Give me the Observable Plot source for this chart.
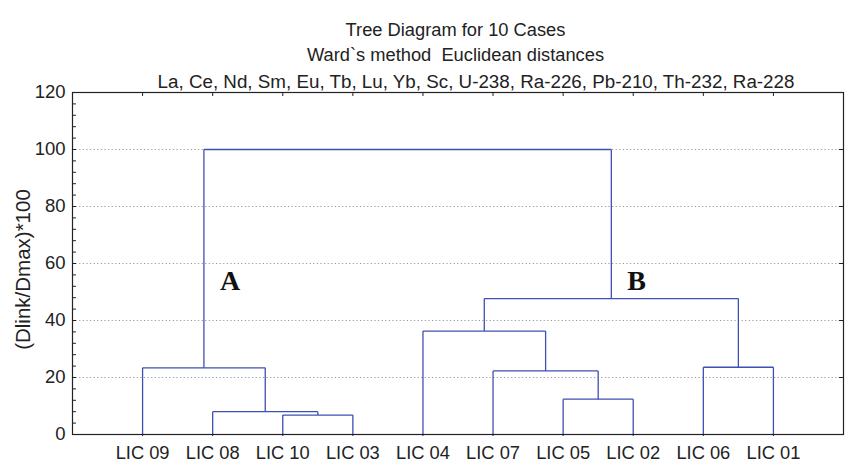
<!DOCTYPE html>
<html>
<head>
<meta charset="utf-8">
<script src="https://cdn.jsdelivr.net/npm/d3@7"></script>
<script src="https://cdn.jsdelivr.net/npm/@observablehq/plot@0.6"></script>
<style>
  body { margin: 0; background: #fff; }
  #chart svg { display: block; }
</style>
</head>
<body>
<div id="chart"></div>
<script>
// ---- data ----
const titleLines = [
  "Tree Diagram for 10 Cases",
  "Ward`s method  Euclidean distances",
  "La, Ce, Nd, Sm, Eu, Tb, Lu, Yb, Sc, U-238, Ra-226, Pb-210, Th-232, Ra-228"
];
const yLabel = "(Dlink/Dmax)*100";
const leaves = ["LIC 09", "LIC 08", "LIC 10", "LIC 03", "LIC 04", "LIC 07", "LIC 05", "LIC 02", "LIC 06", "LIC 01"];
const mergeName   = ["c1",     "c2",     "A",      "c3",     "c4",     "c5",     "c6",     "B",  "root"];
const mergeLeft   = ["LIC 10", "LIC 08", "LIC 09", "LIC 05", "LIC 07", "LIC 04", "LIC 06", "c5", "A"];
const mergeRight  = ["LIC 03", "c1",     "c2",     "LIC 02", "c3",     "c4",     "LIC 01", "c6", "B"];
const mergeHeight = [6.8,      8.0,      23.4,     12.4,     22.3,     36.3,     23.6,     47.7, 100];
const clusterLabels = ["A", "B"];
const clusterLabelHeight = [54, 54];
const yTicks = [0, 20, 40, 60, 80, 100, 120];
const yGrid = [20, 40, 60, 80, 100];
const yMinor = d3.range(0, 121, 4);

// ---- layout ----
const W = 845, H = 461;
const mTop = 92, mBottom = 27, mLeft = 72, mRight = 2;
const frameW = W - mLeft - mRight, frameH = H - mTop - mBottom;

// ---- build dendrogram segments from merge table ----
const pos = new Map();
leaves.forEach((l, i) => pos.set(l, {x: i + 1, y: 0}));
const segs = [];
mergeName.forEach((n, i) => {
  const a = pos.get(mergeLeft[i]), b = pos.get(mergeRight[i]), h = mergeHeight[i];
  segs.push({x1: a.x, y1: a.y, x2: a.x, y2: h});
  segs.push({x1: b.x, y1: b.y, x2: b.x, y2: h});
  segs.push({x1: a.x, y1: h, x2: b.x, y2: h});
  pos.set(n, {x: (a.x + b.x) / 2, y: h});
});
const labelData = clusterLabels.map((c, i) => ({label: c, x: pos.get(c).x, y: clusterLabelHeight[i]}));
const leafPos = leaves.map((l, i) => i + 1);

const ink = "#222";
const chart = Plot.plot({
  width: W, height: H,
  marginTop: mTop, marginBottom: mBottom, marginLeft: mLeft, marginRight: mRight,
  x: {domain: [0, leaves.length + 1], axis: null},
  y: {domain: [0, 120], axis: null},
  style: {fontFamily: "'Liberation Sans', Arial, Helvetica, sans-serif", fontSize: "18px", background: "#fff", color: ink},
  marks: [
    Plot.gridY(yGrid, {stroke: "#999", strokeOpacity: 1, strokeDasharray: "1.2,2.4", strokeWidth: 1}),
    Plot.link(segs, {x1: "x1", y1: "y1", x2: "x2", y2: "y2", stroke: "#3f4fb2", strokeWidth: 1.3}),
    // inward minor ticks on the left, inward ticks on the right and top
    Plot.tickY(yMinor, {y: d => d, insetRight: frameW - 4, stroke: ink}),
    Plot.tickY(yTicks, {y: d => d, insetLeft: frameW - 4, stroke: ink}),
    Plot.tickX(leafPos, {x: d => d, insetBottom: frameH - 4, stroke: ink}),
    Plot.frame({stroke: ink, strokeWidth: 1.2}),
    Plot.axisY(yTicks, {anchor: "left", tickSize: 0, tickPadding: 7, label: null, fontSize: 18.5}),
    Plot.axisX(leafPos, {anchor: "bottom", tickSize: 2, tickPadding: 9, label: null, fontSize: 18.3,
      tickFormat: d => leaves[d - 1]}),
    Plot.text([yLabel], {frameAnchor: "left", textAnchor: "middle", rotate: -90, dx: -49.5, dy: 6, fontSize: 20.5, fill: ink}),
    Plot.text(labelData, {x: "x", y: "y", text: "label", textAnchor: "start", dx: 16,
      fontFamily: "'Liberation Serif', 'Times New Roman', serif", fontWeight: "bold", fontSize: 28, fill: "#111"}),
    Plot.text([titleLines[0]], {frameAnchor: "top-left", dx: 383, dy: -70, textAnchor: "middle", fontSize: 18.3, fill: ink}),
    Plot.text([titleLines[1]], {frameAnchor: "top-left", dx: 383, dy: -44.5, textAnchor: "middle", fontSize: 18.3, fill: ink}),
    Plot.text([titleLines[2]], {frameAnchor: "top-left", dx: 403.5, dy: -18, textAnchor: "middle", fontSize: 18.8, fill: ink})
  ]
});
document.getElementById("chart").appendChild(chart);
</script>
</body>
</html>
